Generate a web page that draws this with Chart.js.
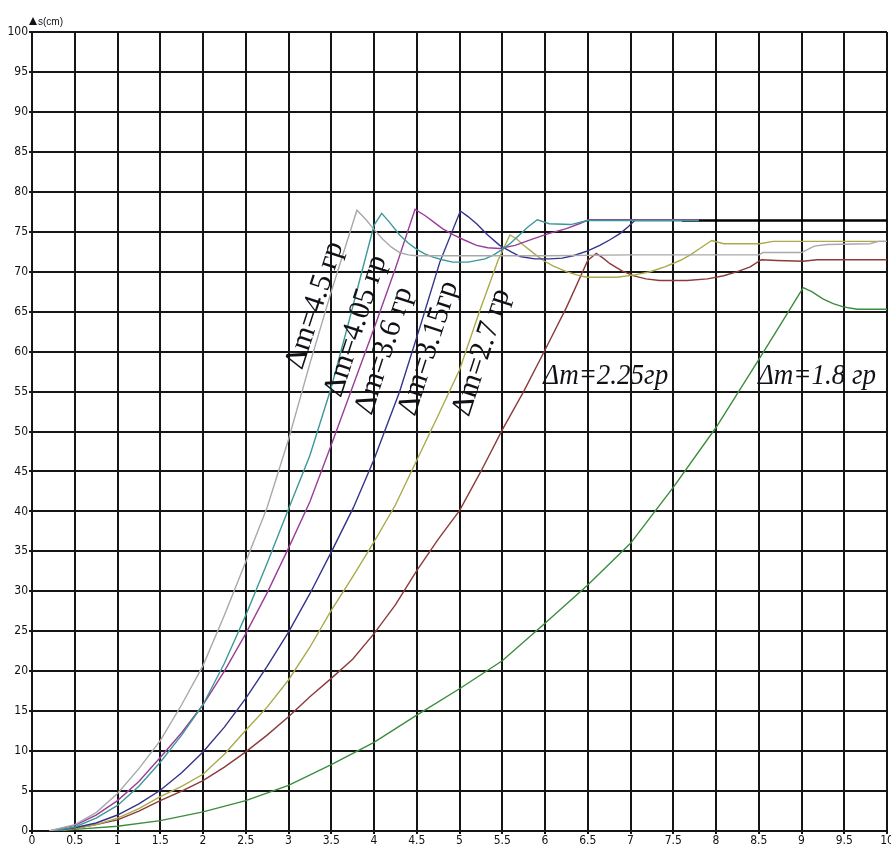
<!DOCTYPE html>
<html>
<head>
<meta charset="utf-8">
<script src="https://cdn.jsdelivr.net/npm/chart.js@4.4.1/dist/chart.umd.min.js"></script>
<style>
  html, body { margin: 0; padding: 0; background: #fff; }
  #wrap { width: 891px; height: 844px; }
</style>
</head>
<body>
<div id="wrap"><canvas id="myChart" width="891" height="844"></canvas></div>
<script>
// s(t) curves, one per added mass, [t, s] pairs
const dm45 = [[0.2,0],[0.5,0.8],[0.75,2.3],[1.0,4.7],[1.25,7.8],[1.5,11.3],[1.75,15.8],[2.0,20.7],[2.25,27],[2.5,33.7],[2.75,40.5],[3.0,49],[3.25,58.5],[3.5,67.5],[3.8,77.7],[3.9,76.6],[4.0,75.3],[4.1,74.1],[4.2,73.1],[4.3,72.4],[4.4,72.1],[4.5,72.0],[5,72],[6,72],[7,72.1],[8,72.1],[8.5,72.1],[8.55,72.4],[9.0,72.4],[9.15,73.2],[9.3,73.4],[9.8,73.5],[9.9,73.8],[10,73.8]];
const dm405 = [[0.25,0],[0.5,0.5],[0.75,1.6],[1.0,3.2],[1.25,5.6],[1.5,8.6],[1.75,12],[2.0,15.8],[2.25,21],[2.5,27],[2.75,33.5],[3.0,40.3],[3.25,47],[3.5,55.5],[3.7,63.5],[3.87,70.5],[4.0,75.8],[4.09,77.3],[4.18,76.2],[4.3,74.6],[4.4,73.6],[4.5,72.8],[4.6,72.2],[4.7,71.8],[4.8,71.5],[4.92,71.2],[5.1,71.2],[5.3,71.6],[5.4,72.1],[5.5,72.8],[5.6,73.6],[5.7,74.6],[5.8,75.6],[5.91,76.5],[6.05,76.0],[6.3,75.9],[6.5,76.4],[7,76.4],[7.8,76.4]];
const dm36 = [[0.2,0],[0.5,0.7],[0.75,2],[1.0,3.8],[1.25,6.2],[1.5,9.2],[1.75,12.3],[2.0,15.8],[2.25,20],[2.5,24.7],[2.75,29.8],[3.0,35.4],[3.25,41.2],[3.5,48.3],[3.75,55.6],[4.0,62.9],[4.25,70.4],[4.48,77.8],[4.6,77],[4.7,76.2],[4.8,75.4],[4.93,74.6],[5.05,74],[5.2,73.3],[5.33,73],[5.47,72.9],[5.65,73.3],[5.86,74.1],[6.05,74.8],[6.25,75.4],[6.4,76],[6.51,76.5],[7,76.5],[7.8,76.5]];
const dm315 = [[0.25,0],[0.5,0.4],[0.75,1],[1.0,2],[1.25,3.4],[1.5,5.1],[1.75,7.3],[2.0,9.9],[2.25,13],[2.5,16.6],[2.75,20.6],[3.0,24.9],[3.25,29.7],[3.5,34.9],[3.76,40.5],[4.0,46.5],[4.3,55],[4.55,63.5],[4.77,71.2],[5.01,77.6],[5.1,76.9],[5.2,76],[5.33,74.6],[5.47,73.3],[5.6,72.5],[5.71,71.9],[5.88,71.6],[6.06,71.6],[6.2,71.7],[6.33,72],[6.5,72.6],[6.64,73.3],[6.76,74],[6.88,74.8],[6.97,75.6],[7.05,76.4],[7.8,76.4]];
const dm27 = [[0.25,0],[0.5,0.3],[0.75,0.8],[1.0,1.6],[1.25,2.8],[1.5,4.3],[1.75,5.6],[2.0,7.1],[2.25,9.6],[2.5,12.6],[2.75,15.5],[3.0,18.9],[3.25,23],[3.5,27.6],[3.75,31.8],[4.0,36.2],[4.25,40.8],[4.5,46.4],[4.75,52],[5.0,57.7],[5.24,65.2],[5.45,71.4],[5.59,74.6],[5.67,74.1],[5.75,73.3],[5.87,72.3],[5.98,71.4],[6.1,70.7],[6.25,70],[6.37,69.6],[6.49,69.3],[6.84,69.3],[7.05,69.6],[7.23,70],[7.4,70.6],[7.58,71.4],[7.7,72.1],[7.81,72.9],[7.95,73.9],[8.09,73.5],[8.51,73.5],[8.67,73.8],[10,73.8]];
const dm225 = [[0.25,0],[0.5,0.3],[0.75,0.8],[1.0,1.4],[1.25,2.5],[1.5,3.8],[1.75,5],[2.0,6.3],[2.25,8],[2.5,9.9],[2.75,12],[3.0,14.3],[3.25,16.8],[3.5,19.1],[3.75,21.5],[4.0,24.7],[4.25,28.3],[4.5,32.6],[4.75,36.5],[5.0,40.1],[5.25,45],[5.5,50.2],[5.75,55],[6.0,60.2],[6.25,65.5],[6.5,71.4],[6.6,72.3],[6.68,71.7],[6.76,71],[6.9,70.1],[7.03,69.5],[7.18,69.1],[7.34,68.9],[7.66,68.9],[7.9,69.1],[8.09,69.5],[8.25,70],[8.4,70.6],[8.53,71.5],[8.71,71.4],[9.02,71.3],[9.18,71.5],[10,71.5]];
const dm18 = [[0.3,0],[0.5,0.2],[1.0,0.6],[1.5,1.3],[2.0,2.4],[2.5,3.8],[3.0,5.7],[3.5,8.3],[4.0,11.1],[4.5,14.5],[5.0,17.8],[5.5,21.3],[6.0,26],[6.5,30.8],[7.0,36],[7.5,43],[8.0,50.5],[8.5,59],[8.75,63.3],[9.02,68],[9.12,67.5],[9.25,66.6],[9.37,66],[9.49,65.6],[9.65,65.3],[10,65.3]];
const plateau = [[7.6,76.4],[10,76.4]];

const curveLabels = ["Δm=4.5 гр", "Δm=4.05 гр", "Δm=3.6 гр", "Δm=3.15гр", "Δm=2.7 гр", "Δm=2.25гр", "Δm=1.8 гр"];

// where each curve name sits, in axis units
const labelSpots = [
  { t: 3.31, s: 65.8, angle: -72, italic: false, align: "center" },
  { t: 3.79, s: 63.2, angle: -72, italic: false, align: "center" },
  { t: 4.12, s: 60.1, angle: -72, italic: false, align: "center" },
  { t: 4.64, s: 60.4, angle: -72, italic: false, align: "center" },
  { t: 5.26, s: 59.9, angle: -72, italic: false, align: "center" },
  { t: 5.98, s: 56.0, angle: 0, italic: true, align: "left" },
  { t: 8.49, s: 56.0, angle: 0, italic: true, align: "left" }
];

const curveColors = ["#a9a9a9", "#3b9996", "#9a3d9a", "#33338c", "#aaaa4c", "#8c3a3a", "#3c8c3c"];
const curves = [dm45, dm405, dm36, dm315, dm27, dm225, dm18];

const toPoints = (arr) => arr.map(p => ({ x: p[0], y: p[1] }));

const datasets = curves.map((c, i) => ({
  label: curveLabels[i],
  data: toPoints(c),
  borderColor: curveColors[i],
  borderWidth: 1.4,
  pointRadius: 0,
  tension: 0,
  fill: false
}));
datasets.push({
  label: "plateau",
  data: toPoints(plateau),
  borderColor: "#000",
  borderWidth: 2.4,
  pointRadius: 0,
  fill: false
});

const curveNames = {
  id: "curveNames",
  afterDatasetsDraw(chart) {
    const ctx = chart.ctx;
    const xs = chart.scales.x, ys = chart.scales.y;
    ctx.save();
    ctx.fillStyle = "#111118";
    labelSpots.forEach((spot, i) => {
      const px = xs.getPixelForValue(spot.t);
      const py = ys.getPixelForValue(spot.s);
      ctx.save();
      ctx.translate(px, py);
      if (spot.angle) {
        ctx.rotate(spot.angle * Math.PI / 180);
        ctx.font = "30px 'Liberation Serif', 'DejaVu Serif', serif";
        ctx.textBaseline = "middle";
      } else {
        ctx.scale(0.9, 1);
        ctx.font = "italic 30px 'Liberation Serif', 'DejaVu Serif', serif";
        ctx.textBaseline = "alphabetic";
      }
      ctx.textAlign = spot.align;
      ctx.fillText(curveLabels[i], 0, 0);
      ctx.restore();
    });

    // axis caption above the s axis
    const left = chart.chartArea.left;
    ctx.beginPath();
    ctx.moveTo(left - 3, 25);
    ctx.lineTo(left + 1, 17);
    ctx.lineTo(left + 5, 25);
    ctx.closePath();
    ctx.fill();
    ctx.font = "10px 'Liberation Sans', Arial, sans-serif";
    ctx.textAlign = "left";
    ctx.textBaseline = "alphabetic";
    ctx.fillText("s(cm)", left + 6, 25);
    ctx.restore();
  }
};

const tickFont = { family: "'Liberation Sans Narrow', 'DejaVu Sans Condensed', sans-serif", size: 12 };

new Chart("myChart", {
  type: "line",
  data: { datasets: datasets },
  options: {
    responsive: false,
    animation: false,
    layout: { padding: { top: 32, right: 4, left: 0, bottom: 0 } },
    plugins: { legend: { display: false }, tooltip: { enabled: false } },
    scales: {
      x: {
        type: "linear",
        min: 0,
        max: 10,
        ticks: {
          stepSize: 0.5, font: tickFont, color: "#111", padding: 0, maxRotation: 0, autoSkip: false,
          callback: (v) => String(v)
        },
        grid: { color: "#151515", lineWidth: 2, tickLength: 3 },
        border: { color: "#151515", width: 2 },
        afterFit: (scale) => { scale.height = 13; scale.paddingLeft = 0; scale.paddingRight = 0; }
      },
      y: {
        min: 0,
        max: 100,
        ticks: { stepSize: 5, font: tickFont, color: "#111", padding: 1 },
        grid: { color: "#151515", lineWidth: 2, tickLength: 3 },
        border: { color: "#151515", width: 2 },
        afterFit: (scale) => { scale.width = 32; scale.paddingTop = 0; scale.paddingBottom = 0; }
      }
    }
  },
  plugins: [curveNames]
});
</script>
</body>
</html>
